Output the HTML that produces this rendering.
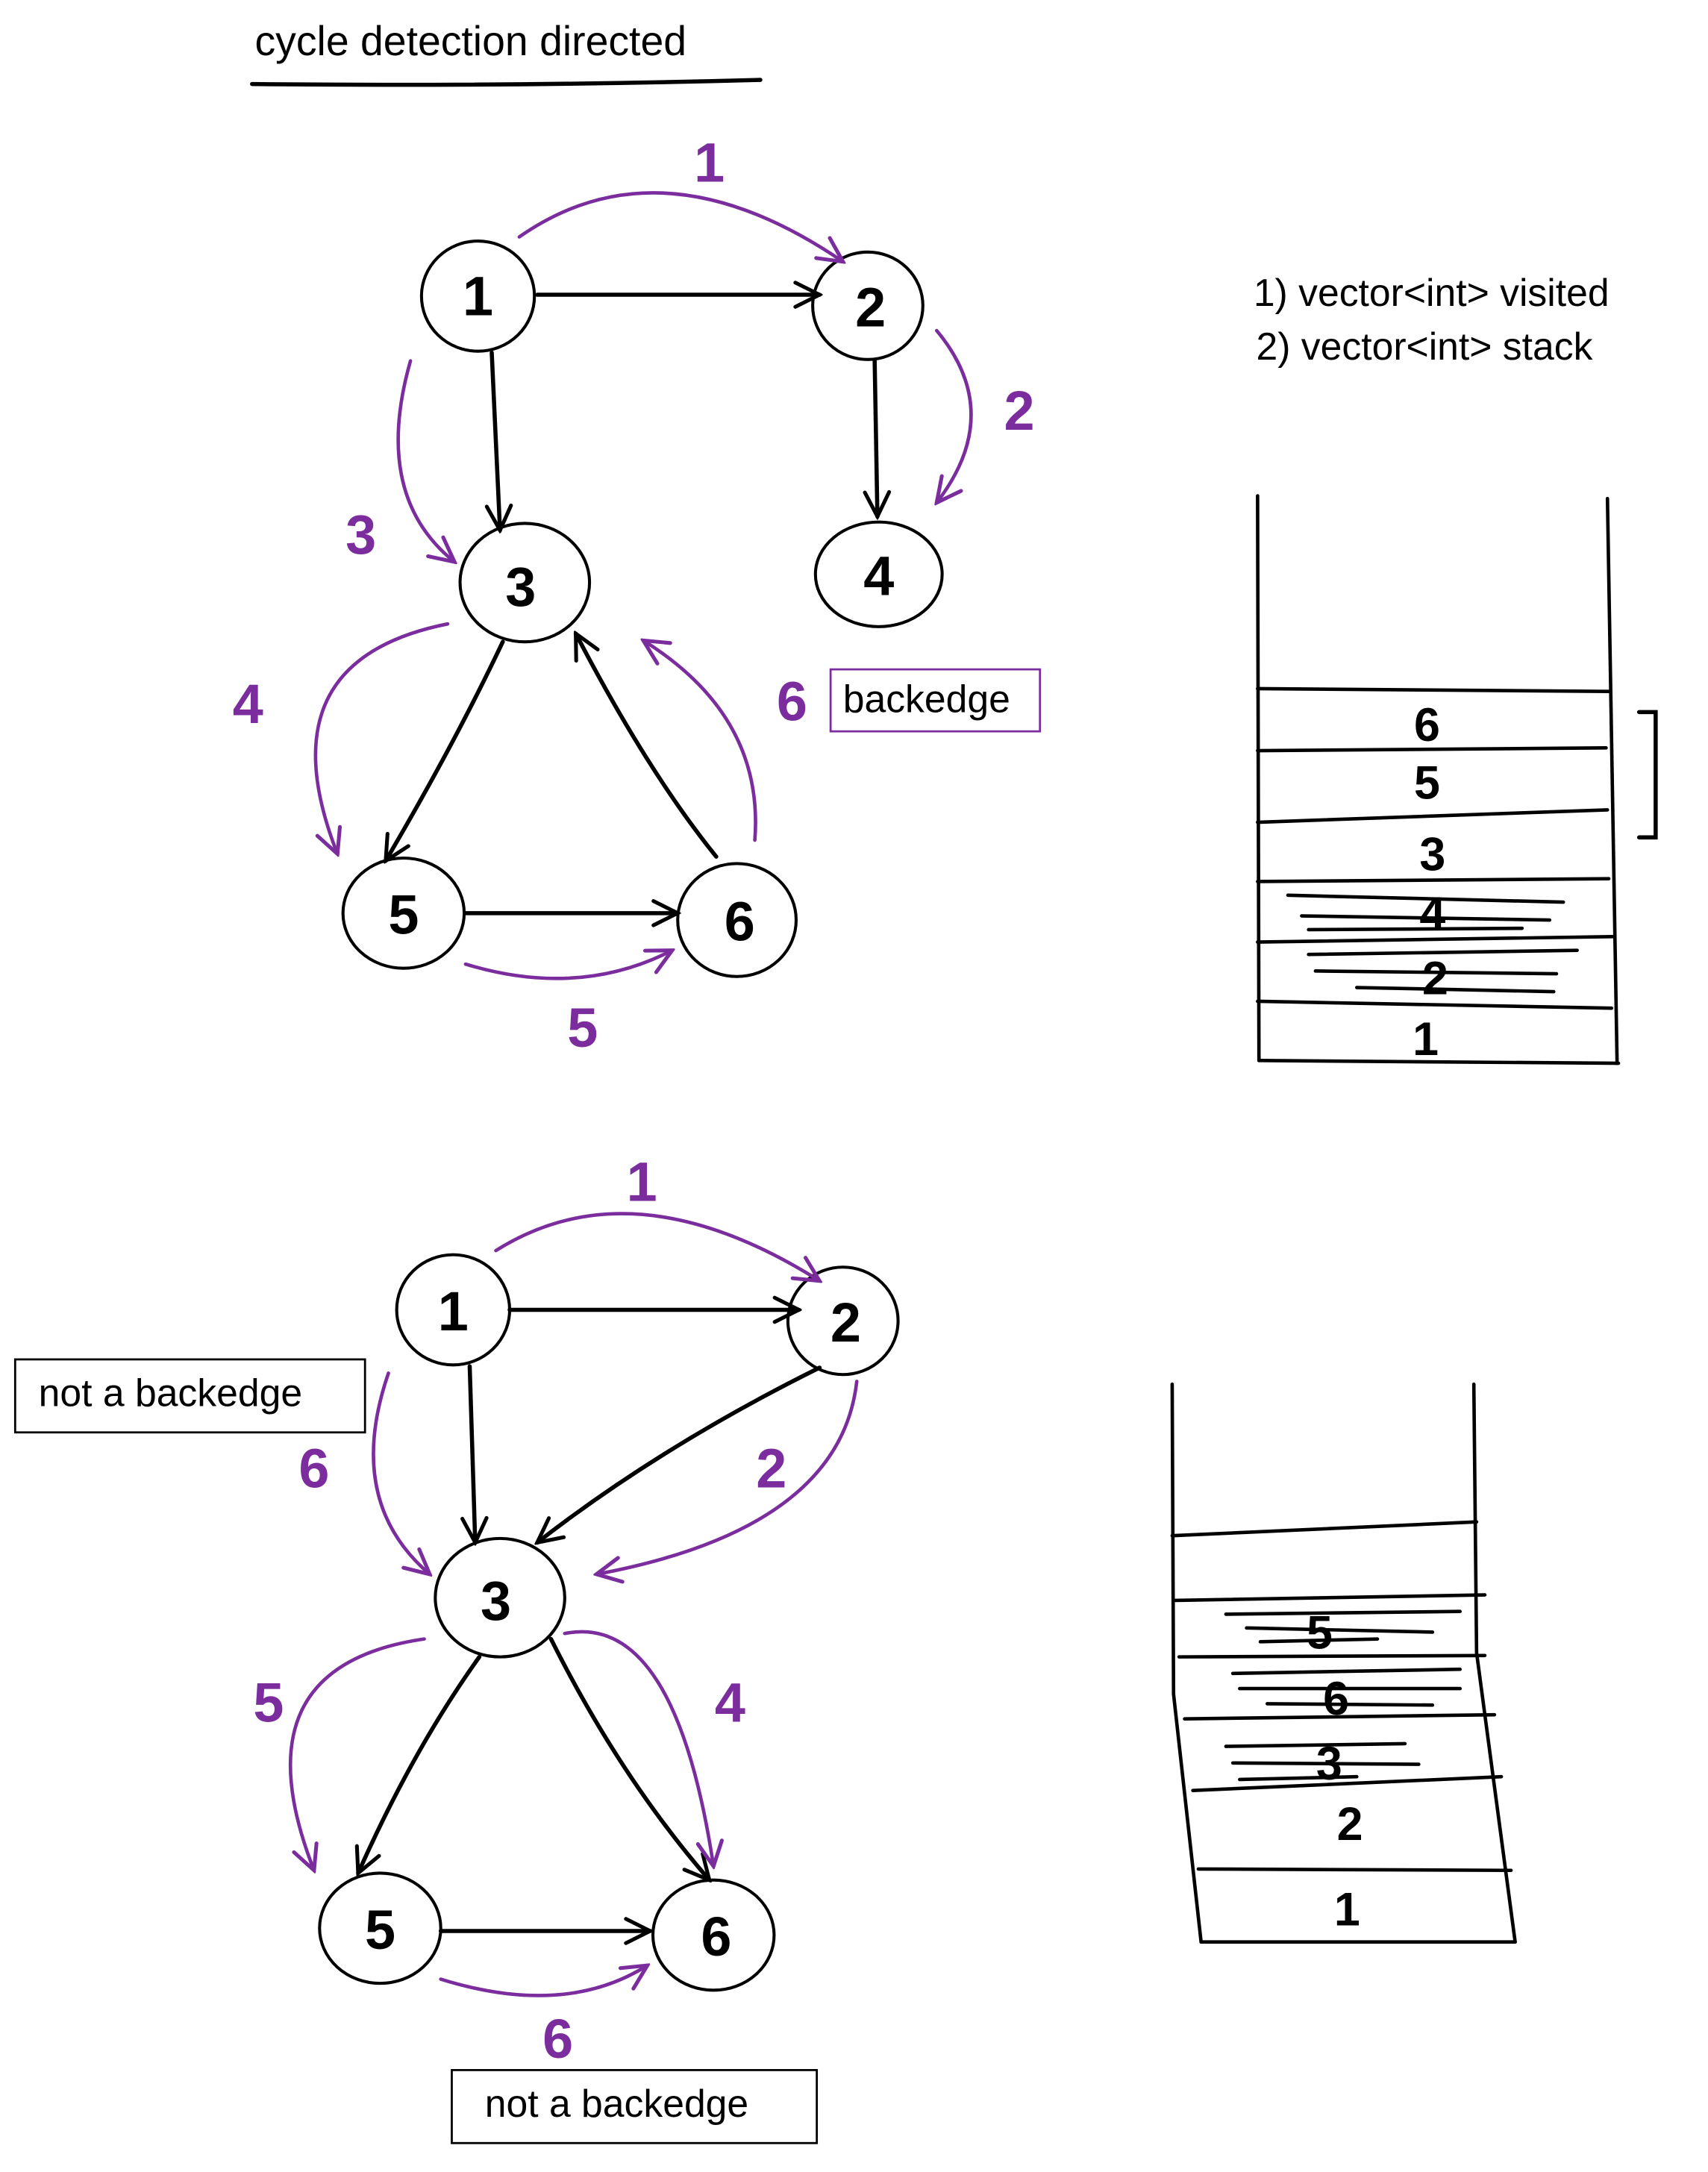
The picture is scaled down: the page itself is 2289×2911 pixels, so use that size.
<!DOCTYPE html>
<html><head><meta charset="utf-8"><style>
html,body{margin:0;padding:0;background:#fff}
svg{display:block}
text{font-family:"Liberation Sans",sans-serif}
</style></head><body>
<svg width="2289" height="2911" viewBox="0 0 1240 1577" preserveAspectRatio="none" xmlns="http://www.w3.org/2000/svg">
<defs>
<marker id="ab" viewBox="0 0 20 20" refX="18" refY="10" markerWidth="22" markerHeight="22" markerUnits="userSpaceOnUse" orient="auto"><path d="M2,2 L18,10 L2,18" fill="none" stroke="#000" stroke-width="2.5" stroke-linecap="round"/></marker>
<marker id="ap" viewBox="0 0 20 20" refX="18" refY="10" markerWidth="22" markerHeight="22" markerUnits="userSpaceOnUse" orient="auto"><path d="M2,2 L18,10 L2,18" fill="none" stroke="#7b2d9e" stroke-width="2.5" stroke-linecap="round"/></marker>
</defs>
<g fill="none" stroke-linecap="round">
<path d="M183,61 Q370,63 552,58" stroke="#000" stroke-width="3"/>
<g stroke="#000" stroke-width="2.2" fill="#fff">
<ellipse cx="347" cy="215" rx="41" ry="40"/>
<ellipse cx="630" cy="222" rx="40" ry="39"/>
<ellipse cx="638" cy="417" rx="46" ry="38"/>
<ellipse cx="381" cy="423" rx="47" ry="43"/>
<ellipse cx="293" cy="663" rx="44" ry="40"/>
<ellipse cx="535" cy="668" rx="43" ry="41"/>
</g>
<g stroke="#000" stroke-width="3" marker-end="url(#ab)">
<path d="M390,214 L595,214"/>
<path d="M357,256 L363,385"/>
<path d="M635,262 L637,375"/>
<path d="M365,466 Q330,540 280,625"/>
<path d="M338,663 L492,663"/>
<path d="M520,622 Q470,560 418,460"/>
</g>
<g stroke="#7b2d9e" stroke-width="2.5" marker-end="url(#ap)">
<path d="M377,172 Q480,100 612,190"/>
<path d="M680,240 Q730,300 680,365"/>
<path d="M298,262 Q270,360 330,408"/>
<path d="M325,453 Q190,480 245,620"/>
<path d="M338,700 Q420,725 488,690"/>
<path d="M548,610 Q555,520 467,465"/>
</g>
<rect x="603" y="486" width="152" height="45" stroke="#7b2d9e" stroke-width="1.5"/>
<g stroke="#000" stroke-width="2.5">
<path d="M913,360 L914,770"/>
<path d="M1167,362 L1174,772"/>
<path d="M913,500 L1168,502"/><path d="M913,545 L1166,543"/><path d="M913,597 L1167,588"/>
<path d="M913,640 L1168,638"/><path d="M913,684 L1172,680"/><path d="M913,727 L1170,732"/>
<path d="M914,770 L1175,772"/>
<path d="M935,650 L1135,655"/><path d="M945,665 L1125,668"/><path d="M950,675 L1105,674"/>
<path d="M950,693 L1145,690"/><path d="M955,705 L1130,707"/><path d="M985,717 L1128,720"/>
<path d="M1190,517 L1202,517 L1202,608 L1190,608" stroke-width="3"/>
</g>
<g stroke="#000" stroke-width="2.2" fill="#fff">
<ellipse cx="329" cy="951" rx="41" ry="40"/>
<ellipse cx="612" cy="959" rx="40" ry="39"/>
<ellipse cx="363" cy="1160" rx="47" ry="43"/>
<ellipse cx="276" cy="1400" rx="44" ry="40"/>
<ellipse cx="518" cy="1405" rx="44" ry="40"/>
</g>
<g stroke="#000" stroke-width="3" marker-end="url(#ab)">
<path d="M370,951 L580,951"/>
<path d="M341,992 L345,1120"/>
<path d="M595,993 Q480,1050 390,1120"/>
<path d="M348,1203 Q300,1270 260,1360"/>
<path d="M400,1190 Q450,1290 515,1365"/>
<path d="M320,1402 L472,1402"/>
</g>
<g stroke="#7b2d9e" stroke-width="2.5" marker-end="url(#ap)">
<path d="M360,908 Q460,845 595,930"/>
<path d="M622,1003 Q610,1110 433,1143"/>
<path d="M282,997 Q250,1090 312,1143"/>
<path d="M308,1190 Q170,1210 228,1358"/>
<path d="M410,1186 Q490,1170 518,1355"/>
<path d="M320,1437 Q410,1465 470,1427"/>
</g>
<rect x="11" y="987" width="254" height="53" stroke="#000" stroke-width="1.5"/>
<rect x="328" y="1503" width="265" height="53" stroke="#000" stroke-width="1.5"/>
<g stroke="#000" stroke-width="2.5">
<path d="M851,1005 L852,1230 L872,1410"/>
<path d="M1070,1005 L1072,1200 L1100,1410"/>
<path d="M851,1115 L1072,1105"/><path d="M853,1162 L1078,1158"/><path d="M856,1203 L1078,1202"/>
<path d="M860,1248 L1085,1245"/><path d="M866,1300 L1090,1290"/><path d="M870,1357 L1097,1358"/>
<path d="M872,1410 L1100,1410"/>
<path d="M890,1172 L1060,1170"/><path d="M905,1182 L1040,1185"/><path d="M915,1192 L1000,1190"/>
<path d="M895,1215 L1060,1212"/><path d="M900,1226 L1060,1226"/><path d="M920,1237 L1040,1238"/>
<path d="M890,1268 L1020,1266"/><path d="M895,1280 L1030,1281"/><path d="M900,1292 L985,1290"/>
</g>
</g>
<g fill="#000">
<text x="185" y="40" font-size="30">cycle detection directed</text>
<text x="910" y="222" font-size="28">1) vector&lt;int&gt; visited</text>
<text x="912" y="261" font-size="28">2) vector&lt;int&gt; stack</text>
</g>
<g font-size="40" font-weight="bold" fill="#000" text-anchor="middle">
<text x="347" y="229">1</text><text x="632" y="237">2</text><text x="638" y="432">4</text>
<text x="378" y="440">3</text><text x="293" y="678">5</text><text x="537" y="683">6</text>
<text x="329" y="966">1</text><text x="614" y="974">2</text><text x="360" y="1176">3</text>
<text x="276" y="1415">5</text><text x="520" y="1420">6</text>
</g>
<g font-size="34" font-weight="bold" fill="#000" text-anchor="middle">
<text x="1036" y="538">6</text><text x="1036" y="580">5</text><text x="1040" y="632">3</text>
<text x="1040" y="675">4</text><text x="1042" y="722">2</text><text x="1035" y="766">1</text>
<text x="958" y="1197">5</text><text x="970" y="1245">6</text><text x="965" y="1292">3</text>
<text x="980" y="1336">2</text><text x="978" y="1398">1</text>
</g>
<g font-size="40" font-weight="bold" fill="#7b2d9e" text-anchor="middle">
<text x="515" y="132">1</text><text x="740" y="312">2</text><text x="262" y="402">3</text>
<text x="180" y="525">4</text><text x="423" y="760">5</text><text x="575" y="523">6</text>
<text x="466" y="872">1</text><text x="560" y="1080">2</text><text x="228" y="1080">6</text>
<text x="195" y="1250">5</text><text x="530" y="1250">4</text><text x="405" y="1494">6</text>
</g>
<g font-size="28" fill="#000">
<text x="612" y="517" font-family="Liberation Mono,monospace">backedge</text>
<text x="28" y="1021" font-family="Liberation Mono,monospace">not a backedge</text>
<text x="352" y="1537" font-family="Liberation Mono,monospace">not a backedge</text>
</g>
</svg>
</body></html>
